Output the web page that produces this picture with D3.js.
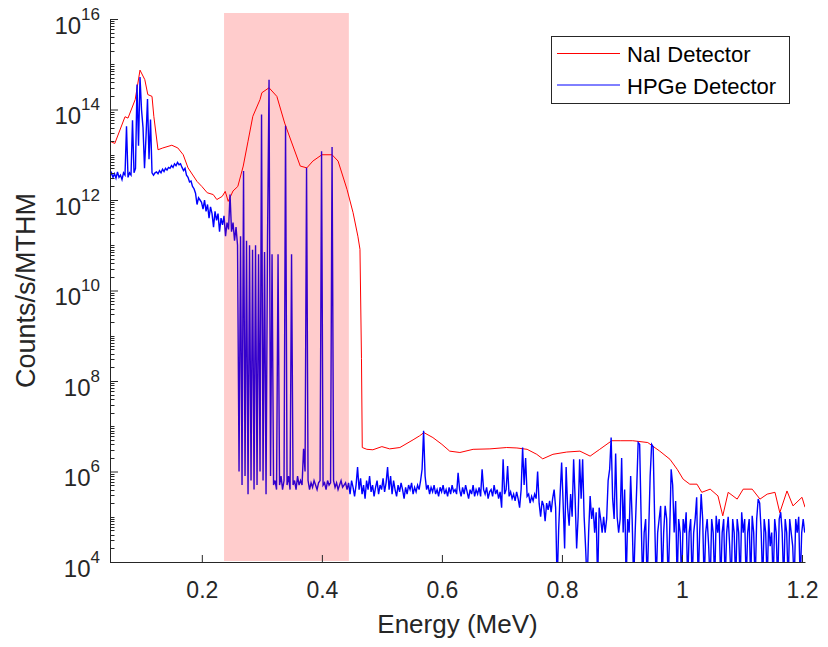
<!DOCTYPE html>
<html>
<head>
<meta charset="utf-8">
<script src="https://cdn.jsdelivr.net/npm/d3@7"></script>
<style>
  body { margin: 0; background: #fff; }
  svg { display: block; font-family: "Liberation Sans", Arial, Helvetica, sans-serif; }
</style>
</head>
<body>
<div id="chart"></div>
<script>
// NaI detector spectrum (energy in MeV, log10 of counts/s/MTHM)
const naiEnergy = [0.047, 0.055, 0.072, 0.077, 0.089, 0.097, 0.105, 0.110, 0.117, 0.120,
  0.127, 0.135, 0.150, 0.160, 0.169, 0.177, 0.192, 0.200, 0.209, 0.219,
  0.225, 0.234, 0.239, 0.244, 0.252, 0.260, 0.269, 0.277, 0.285, 0.297, 0.300,
  0.312, 0.325, 0.338, 0.350, 0.364, 0.375, 0.385, 0.400, 0.417, 0.427,
  0.442, 0.452, 0.460, 0.4635, 0.466, 0.4673, 0.475, 0.485, 0.500, 0.513,
  0.530, 0.552, 0.563, 0.570, 0.585, 0.600, 0.613, 0.630, 0.652, 0.680,
  0.708, 0.725, 0.742, 0.758, 0.768, 0.785, 0.808, 0.830, 0.847, 0.863,
  0.883, 0.897, 0.918, 0.943, 0.963, 0.980, 0.992, 1.002, 1.013, 1.025,
  1.033, 1.047, 1.060, 1.068, 1.077, 1.092, 1.102, 1.117, 1.130, 1.142,
  1.155, 1.163, 1.175, 1.185, 1.200, 1.205];
const naiLog = [13.30, 13.25, 13.84, 13.81, 14.22, 14.87, 14.66, 14.33, 14.29, 13.85,
  13.11, 13.15, 13.21, 13.15, 13.0, 12.71, 12.41, 12.30, 12.16, 12.12,
  12.01, 12.08, 12.19, 11.97, 12.20, 12.30, 12.75, 13.3, 13.85, 14.22, 14.37,
  14.48, 14.29, 13.70, 13.26, 12.75, 12.71, 12.86, 13.0, 13.0, 12.86,
  12.23, 11.72, 11.20, 10.91, 8.5, 6.53, 6.49, 6.48, 6.55, 6.5,
  6.53, 6.70, 6.79, 6.86, 6.75, 6.6, 6.45, 6.42, 6.49, 6.5,
  6.53, 6.52, 6.49, 6.38, 6.28, 6.38, 6.43, 6.45, 6.34, 6.49,
  6.68, 6.68, 6.68, 6.64, 6.45, 6.27, 6.05, 5.83, 5.72, 5.72,
  5.54, 5.61, 5.46, 5.02, 5.54, 5.39, 5.61, 5.61, 5.39, 5.50,
  5.54, 5.09, 5.57, 5.24, 5.43, 5.21];

// HPGe detector spectrum: channels of equal width, log10 of counts/s/MTHM per channel
const hpgeStart = 0.047;
const hpgeStep = 0.0025;
const hpgeLog = [
  // 0.047 - 0.122
  12.52, 12.6, 12.5, 12.58, 12.48, 12.62, 12.5, 12.55, 12.45, 12.6,
  12.55, 13.63, 12.5, 12.6, 12.55, 13.76, 12.6, 12.7, 14.55, 13.2,
  14.72, 14.0, 13.6, 12.7, 13.4, 14.23, 12.9, 13.78, 12.6, 12.55, 12.6,
  // 0.125 - 0.197
  12.62, 12.58, 12.65, 12.6, 12.68, 12.63, 12.7, 12.66, 12.72, 12.7,
  12.76, 12.72, 12.8, 12.76, 12.83, 12.78, 12.8, 12.72, 12.65, 12.7,
  12.55, 12.5, 12.4, 12.42, 12.3, 12.25, 12.15, 11.9, 12.05, 12.0,
  // 0.2 - 0.257
  11.95, 11.8, 12.0, 11.75, 11.9, 11.6, 11.85, 11.7, 11.4, 11.75,
  11.55, 11.7, 11.3, 11.6, 11.45, 11.65, 11.2, 11.5, 11.35, 12.12,
  11.3, 11.5, 11.1, 11.4,
  // 0.26 - 0.364
  11.0, 6.0, 11.2, 5.7, 12.64, 5.9, 11.1, 5.5, 11.0, 5.8,
  10.9, 5.6, 11.0, 5.7, 10.8, 6.0, 13.89, 5.8, 10.85, 5.5,
  11.2, 14.66, 5.9, 10.8, 5.7, 5.8, 5.6, 10.8, 5.7, 5.9,
  5.6, 5.8, 13.64, 5.7, 5.9, 5.6, 10.8, 5.7, 5.8, 5.6,
  5.9, 5.7, 5.8,
  // 0.367 - 0.439
  5.7, 6.5, 6.0, 12.71, 5.8, 5.6, 5.75, 5.65, 5.8, 5.7,
  5.6, 5.75, 5.8, 13.08, 5.7, 5.75, 5.6, 5.8, 5.7, 5.75,
  13.17, 5.8, 5.65, 5.75, 5.6, 5.7, 5.8, 5.65, 5.7, 5.75,
  // 0.442 - 0.622
  5.6, 5.75, 5.5, 5.8, 5.65, 5.45, 5.7, 6.1, 5.6, 5.85,
  5.5, 5.7, 5.4, 5.8, 5.6, 5.9, 5.55, 5.7, 5.45, 5.65,
  5.8, 5.5, 5.7, 5.6, 5.85, 5.55, 5.75, 6.1, 5.6, 5.9,
  5.5, 5.8, 5.6, 5.45, 5.7, 5.55, 5.75, 5.6, 5.4, 5.65,
  5.5, 5.7, 5.6, 5.75, 5.5, 5.65, 5.55, 5.7, 5.6, 5.8,
  6.05, 6.9, 5.9, 5.6, 5.7, 5.5, 5.65, 5.55, 5.7, 5.5,
  5.6, 5.45, 5.65, 5.55, 5.7, 5.5, 5.6, 5.45, 5.65, 5.5,
  5.7, 5.55, 5.6,
  // 0.625 - 0.784
  5.5, 5.97, 5.6, 5.45, 5.65, 5.5, 5.7, 5.55, 5.4, 5.6,
  5.5, 5.7, 5.45, 5.6, 5.5, 5.65, 5.45, 6.05, 5.6, 5.5,
  5.65, 5.4, 5.55, 5.6, 5.45, 5.7, 5.5, 5.6, 5.4, 5.55,
  5.2, 6.27, 5.5, 5.6, 6.12, 5.45, 5.55, 5.4, 5.5, 5.35,
  5.55, 5.4, 5.2, 5.6, 6.53, 5.7, 6.3, 5.45, 5.5, 5.3,
  5.45, 5.35, 5.5, 5.4, 6.0, 5.3, 5.0, 5.35, 5.25, 4.9,
  5.3, 5.15, 5.35, 5.1, 5.4,
  // 0.787 - 0.842
  5.6, 5.2, 3.5, 4.7, 5.5, 6.2, 5.3, 4.3, 6.1, 5.2,
  4.8, 5.5, 5.0, 6.27, 5.4, 4.3, 5.0, 6.27, 5.4, 6.27,
  5.0, 4.3, 3.5,
  // 0.845 - 1.205
  4.65, 5.46, 4.95, 5.2, 4.65, 5.1, 3.5, 5.2, 4.95, 4.65,
  5.0, 4.65, 4.95, 5.8, 6.05, 6.75, 5.4, 4.95, 6.4, 5.0,
  4.65, 4.95, 6.3, 4.65, 5.6, 3.5, 4.95, 4.65, 5.9, 4.95,
  3.5, 4.65, 5.6, 6.64, 6.6, 4.95, 3.5, 4.65, 4.95, 3.5,
  4.65, 5.9, 6.6, 6.55, 4.95, 3.5, 4.65, 4.95, 5.24, 3.5,
  4.65, 5.24, 4.95, 3.5, 4.65, 6.05, 5.7, 4.65, 5.35, 3.5,
  4.95, 4.65, 3.5, 4.95, 4.65, 5.1, 3.5, 4.65, 4.95, 3.5,
  4.65, 4.95, 5.43, 3.5, 4.65, 5.5, 4.95, 3.5, 4.65, 4.95,
  4.35, 3.5, 4.95, 4.65, 3.5, 5.02, 4.65, 4.95, 3.5, 4.65,
  4.95, 3.5, 4.65, 5.0, 4.35, 3.5, 4.95, 4.65, 3.5, 4.95,
  4.65, 3.5, 5.1, 4.65, 4.95, 3.5, 4.65, 4.95, 3.5, 5.02,
  4.65, 3.5, 4.95, 5.39, 5.3, 4.65, 3.5, 4.95, 4.65, 3.5,
  4.95, 4.35, 4.65, 3.5, 4.95, 4.65, 3.5, 4.95, 5.1, 4.65,
  3.5, 4.95, 4.65, 3.5, 4.95, 4.65, 4.35, 3.5, 4.95, 4.65,
  5.0, 3.5, 4.65, 4.95, 4.65
];

// shaded energy window
const windowRange = [0.237, 0.445];

const xTicks = [0.2, 0.4, 0.6, 0.8, 1, 1.2];
const yExponents = [4, 6, 8, 10, 12, 14, 16];

const seriesNames = ["NaI Detector", "HPGe Detector"];
const seriesColors = ["#ff0000", "#0000ff"];

document.addEventListener('DOMContentLoaded', function() {
    drawChart();
});

function drawChart() {
    const width = 828, height = 647;
    const plot = {left: 110, right: 805, top: 19, bottom: 562};
    const axisColor = "#262626";

    const svg = d3.select("#chart").append("svg")
        .attr("width", width)
        .attr("height", height);

    const x = d3.scaleLinear()
        .domain([0.047, 1.205])
        .range([plot.left, plot.right]);

    const y = d3.scaleLog()
        .domain([1e4, 1e16])
        .range([plot.bottom, plot.top]);

    svg.append("clipPath").attr("id", "plotClip")
        .append("rect")
        .attr("x", plot.left)
        .attr("y", 13)
        .attr("width", plot.right - plot.left)
        .attr("height", plot.bottom - 13);

    const naiData = naiEnergy.map((e, i) => [e, Math.pow(10, naiLog[i])]);
    const hpgeData = hpgeLog.map((v, i) => [hpgeStart + i * hpgeStep, Math.pow(10, v)]);

    const line = d3.line()
        .x(d => x(d[0]))
        .y(d => y(d[1]));

    const lines = svg.append("g").attr("clip-path", "url(#plotClip)");

    lines.append("path")
        .datum(naiData)
        .attr("d", line)
        .attr("fill", "none")
        .attr("stroke", seriesColors[0])
        .attr("stroke-width", 1);

    lines.append("path")
        .datum(hpgeData)
        .attr("d", line)
        .attr("fill", "none")
        .attr("stroke", seriesColors[1])
        .attr("stroke-width", 1.4);

    // translucent window drawn over the spectra
    svg.append("rect")
        .attr("x", x(windowRange[0]))
        .attr("y", 13)
        .attr("width", x(windowRange[1]) - x(windowRange[0]))
        .attr("height", plot.bottom - 1 - 13)
        .attr("fill", "#ff0000")
        .attr("fill-opacity", 0.2);

    // x axis
    const xAxis = svg.append("g")
        .attr("transform", `translate(0,${plot.bottom})`)
        .call(d3.axisBottom(x).tickValues(xTicks).tickSize(-7).tickSizeOuter(0).tickFormat(d3.format("")));
    xAxis.select(".domain").attr("stroke", axisColor);
    xAxis.selectAll(".tick line").attr("stroke", axisColor);
    xAxis.selectAll(".tick text")
        .attr("y", 36)
        .attr("dy", null)
        .attr("fill", axisColor)
        .style("font-size", "23px");
    xAxis.attr("font-family", null).attr("font-size", null);

    // y axis, majors at even decades
    const yMajor = yExponents.map(p => Math.pow(10, p));
    const yAxis = svg.append("g")
        .attr("transform", `translate(${plot.left},0)`)
        .call(d3.axisLeft(y).tickValues(yMajor).tickSize(-8).tickSizeOuter(0).tickFormat(""));
    yAxis.select(".domain").attr("stroke", axisColor);
    yAxis.selectAll(".tick line").attr("stroke", axisColor);

    // minor ticks: every k * 10^n that is not a labelled major
    const yMinor = [];
    for (let p = 4; p < 16; p++) {
        for (let k = 1; k <= 9; k++) {
            if (k === 1 && p % 2 === 0) continue;
            yMinor.push(k * Math.pow(10, p));
        }
    }
    svg.append("g").selectAll("line")
        .data(yMinor)
        .enter()
        .append("line")
        .attr("x1", plot.left + 0.5)
        .attr("x2", plot.left + 4.5)
        .attr("y1", d => Math.round(y(d)) + 0.5)
        .attr("y2", d => Math.round(y(d)) + 0.5)
        .attr("stroke", axisColor)
        .attr("stroke-width", 1);

    const yLabels = svg.append("g")
        .attr("fill", axisColor)
        .selectAll("text")
        .data(yExponents)
        .enter()
        .append("text")
        .attr("x", 100)
        .attr("y", p => y(Math.pow(10, p)) + 14.5)
        .attr("text-anchor", "end")
        .style("font-size", "24px");
    yLabels.append("tspan").text("10");
    yLabels.append("tspan")
        .attr("dy", -14)
        .style("font-size", "17px")
        .text(p => p);

    // axis titles
    svg.append("text")
        .attr("x", (plot.left + plot.right) / 2)
        .attr("y", 633)
        .attr("text-anchor", "middle")
        .attr("fill", axisColor)
        .style("font-size", "26px")
        .text("Energy (MeV)");

    svg.append("text")
        .attr("transform", `translate(35,${(plot.top + plot.bottom) / 2}) rotate(-90)`)
        .attr("text-anchor", "middle")
        .attr("fill", axisColor)
        .style("font-size", "27px")
        .text("Counts/s/MTHM");

    // legend
    const legend = svg.append("g");
    legend.append("rect")
        .attr("x", 551.5)
        .attr("y", 36.5)
        .attr("width", 238)
        .attr("height", 67)
        .attr("fill", "#fff")
        .attr("stroke", axisColor)
        .attr("stroke-width", 1);

    const rows = legend.selectAll(".row")
        .data(seriesNames)
        .enter()
        .append("g")
        .attr("class", "row")
        .attr("transform", (d, i) => `translate(0,${i === 0 ? 53.5 : 85})`);
    rows.append("line")
        .attr("x1", 557)
        .attr("x2", 620)
        .attr("stroke", (d, i) => seriesColors[i])
        .attr("stroke-width", 1);
    rows.append("text")
        .attr("x", 627)
        .attr("y", 8.5)
        .attr("fill", "#000")
        .style("font-size", "22px")
        .text(d => d);
}
</script>
</body>
</html>
